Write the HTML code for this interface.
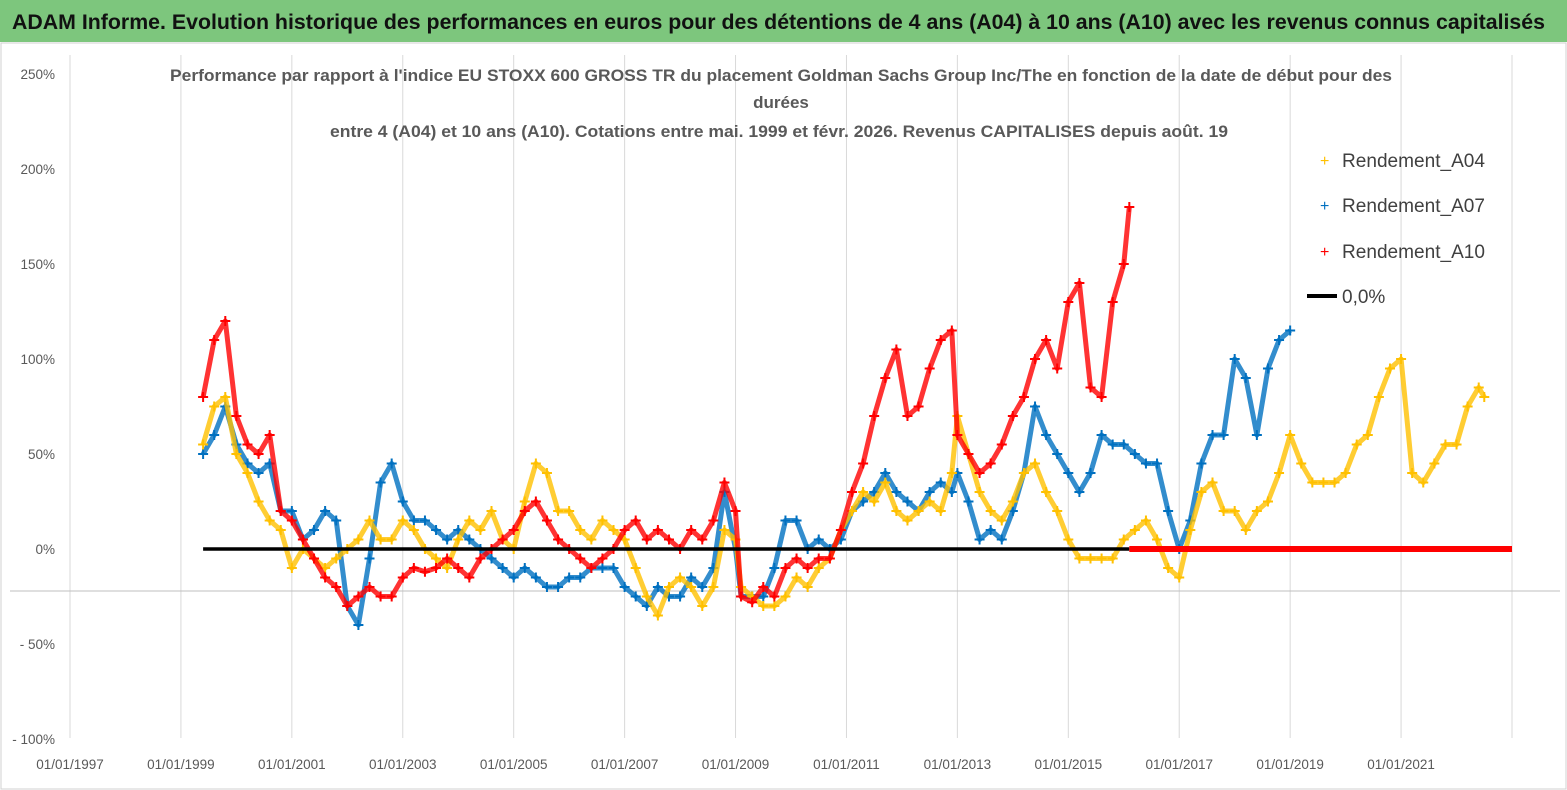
<!DOCTYPE html>
<html><head><meta charset="utf-8">
<style>
html,body{margin:0;padding:0;background:#fff;}
svg{display:block;font-family:"Liberation Sans",sans-serif;}
</style></head>
<body>
<svg id="chart" width="1567" height="790" viewBox="0 0 1567 790">
  <rect x="0" y="0" width="1567" height="790" fill="#fff"/>
  <rect x="0" y="0" width="1567" height="42" fill="#7dc67d"/>
  <text x="12" y="29" font-size="21" font-weight="bold" fill="#111" textLength="1533" lengthAdjust="spacingAndGlyphs">ADAM Informe. Evolution historique des performances en euros pour des détentions de 4 ans (A04) à 10 ans (A10) avec les revenus connus capitalisés</text>
  <rect x="1" y="43" width="1565" height="746" fill="none" stroke="#d0d0d0"/>
  <g id="grid"></g>
  <g id="yticks"></g>
  <g id="xticks"></g>
  <g font-weight="bold" fill="#595959" font-size="17" text-anchor="middle">
    <text x="781" y="81" textLength="1222" lengthAdjust="spacingAndGlyphs">Performance par rapport à l'indice EU STOXX 600 GROSS TR  du placement Goldman Sachs Group Inc/The en fonction de la date de début pour des</text>
    <text x="781" y="108">durées</text>
    <text x="779" y="137" textLength="898" lengthAdjust="spacingAndGlyphs">entre 4 (A04) et 10 ans (A10).  Cotations entre mai. 1999 et févr. 2026. Revenus CAPITALISES depuis août. 19</text>
  </g>
  <g id="plot"></g>
  <g font-size="19" fill="#404040">
    <g><text x="1320" y="166" fill="#ffc000" font-size="16">+</text><text x="1342" y="167" textLength="143" lengthAdjust="spacingAndGlyphs">Rendement_A04</text></g>
    <g><text x="1320" y="211" fill="#0070c0" font-size="16">+</text><text x="1342" y="212" textLength="143" lengthAdjust="spacingAndGlyphs">Rendement_A07</text></g>
    <g><text x="1320" y="257" fill="#ff0000" font-size="16">+</text><text x="1342" y="258" textLength="143" lengthAdjust="spacingAndGlyphs">Rendement_A10</text></g>
    <g><line x1="1307" y1="296" x2="1337" y2="296" stroke="#000" stroke-width="4"/><text x="1342" y="303">0,0%</text></g>
  </g>
</svg>
<script>
const yTickValues=[250,200,150,100,50,0,-50,-100];
const yTickLabels=["250%","200%","150%","100%","50%","0%","- 50%","- 100%"];
const xTickYears=[1997,1999,2001,2003,2005,2007,2009,2011,2013,2015,2017,2019,2021];
const xTickLabels=["01/01/1997","01/01/1999","01/01/2001","01/01/2003","01/01/2005","01/01/2007","01/01/2009","01/01/2011","01/01/2013","01/01/2015","01/01/2017","01/01/2019","01/01/2021"];
const datesA=[1999.4,1999.6,1999.8,2000.0,2000.2,2000.4,2000.6,2000.8,2001.0,2001.2,2001.4,2001.6,2001.8,2002.0,2002.2,2002.4,2002.6,2002.8,2003.0,2003.2,2003.4,2003.6,2003.8,2004.0,2004.2,2004.4,2004.6,2004.8,2005.0,2005.2,2005.4,2005.6,2005.8,2006.0,2006.2,2006.4,2006.6,2006.8,2007.0,2007.2,2007.4,2007.6,2007.8,2008.0,2008.2,2008.4,2008.6,2008.8,2009.0,2009.1,2009.3,2009.5,2009.7,2009.9,2010.1,2010.3,2010.5,2010.7,2010.9,2011.1,2011.3,2011.5,2011.7,2011.9,2012.1,2012.3,2012.5,2012.7,2012.9,2013.0,2013.2,2013.4,2013.6,2013.8,2014.0,2014.2,2014.4,2014.6,2014.8,2015.0,2015.2,2015.4,2015.6,2015.8,2016.0,2016.1];
const a10=[80,110,120,70,55,50,60,20,15,5,-5,-15,-20,-30,-25,-20,-25,-25,-15,-10,-12,-10,-5,-10,-15,-5,0,5,10,20,25,15,5,0,-5,-10,-5,0,10,15,5,10,5,0,10,5,15,35,20,-25,-28,-20,-25,-10,-5,-10,-5,-5,10,30,45,70,90,105,70,75,95,110,115,60,50,40,45,55,70,80,100,110,95,130,140,85,80,130,150,180];
const datesB=[1999.4,1999.6,1999.8,2000.0,2000.2,2000.4,2000.6,2000.8,2001.0,2001.2,2001.4,2001.6,2001.8,2002.0,2002.2,2002.4,2002.6,2002.8,2003.0,2003.2,2003.4,2003.6,2003.8,2004.0,2004.2,2004.4,2004.6,2004.8,2005.0,2005.2,2005.4,2005.6,2005.8,2006.0,2006.2,2006.4,2006.6,2006.8,2007.0,2007.2,2007.4,2007.6,2007.8,2008.0,2008.2,2008.4,2008.6,2008.8,2009.0,2009.1,2009.3,2009.5,2009.7,2009.9,2010.1,2010.3,2010.5,2010.7,2010.9,2011.1,2011.3,2011.5,2011.7,2011.9,2012.1,2012.3,2012.5,2012.7,2012.9,2013.0,2013.2,2013.4,2013.6,2013.8,2014.0,2014.2,2014.4,2014.6,2014.8,2015.0,2015.2,2015.4,2015.6,2015.8,2016.0,2016.2,2016.4,2016.6,2016.8,2017.0,2017.2,2017.4,2017.6,2017.8,2018.0,2018.2,2018.4,2018.6,2018.8,2019.0];
const a07=[50,60,75,55,45,40,45,20,20,5,10,20,15,-30,-40,-5,35,45,25,15,15,10,5,10,5,0,-5,-10,-15,-10,-15,-20,-20,-15,-15,-10,-10,-10,-20,-25,-30,-20,-25,-25,-15,-20,-10,30,0,-25,-25,-25,-10,15,15,0,5,0,5,20,25,30,40,30,25,20,30,35,30,40,25,5,10,5,20,40,75,60,50,40,30,40,60,55,55,50,45,45,20,0,15,45,60,60,100,90,60,95,110,115];
const datesC=[1999.4,1999.6,1999.8,2000.0,2000.2,2000.4,2000.6,2000.8,2001.0,2001.2,2001.4,2001.6,2001.8,2002.0,2002.2,2002.4,2002.6,2002.8,2003.0,2003.2,2003.4,2003.6,2003.8,2004.0,2004.2,2004.4,2004.6,2004.8,2005.0,2005.2,2005.4,2005.6,2005.8,2006.0,2006.2,2006.4,2006.6,2006.8,2007.0,2007.2,2007.4,2007.6,2007.8,2008.0,2008.2,2008.4,2008.6,2008.8,2009.0,2009.1,2009.3,2009.5,2009.7,2009.9,2010.1,2010.3,2010.5,2010.7,2010.9,2011.1,2011.3,2011.5,2011.7,2011.9,2012.1,2012.3,2012.5,2012.7,2012.9,2013.0,2013.2,2013.4,2013.6,2013.8,2014.0,2014.2,2014.4,2014.6,2014.8,2015.0,2015.2,2015.4,2015.6,2015.8,2016.0,2016.2,2016.4,2016.6,2016.8,2017.0,2017.2,2017.4,2017.6,2017.8,2018.0,2018.2,2018.4,2018.6,2018.8,2019.0,2019.2,2019.4,2019.6,2019.8,2020.0,2020.2,2020.4,2020.6,2020.8,2021.0,2021.2,2021.4,2021.6,2021.8,2022.0,2022.2,2022.4,2022.5];
const a04=[55,75,80,50,40,25,15,10,-10,0,-5,-10,-5,0,5,15,5,5,15,10,0,-5,-10,5,15,10,20,5,0,25,45,40,20,20,10,5,15,10,5,-10,-25,-35,-20,-15,-20,-30,-20,10,5,-20,-25,-30,-30,-25,-15,-20,-10,-5,10,20,30,25,35,20,15,20,25,20,40,70,50,30,20,15,25,40,45,30,20,5,-5,-5,-5,-5,5,10,15,5,-10,-15,10,30,35,20,20,10,20,25,40,60,45,35,35,35,40,55,60,80,95,100,40,35,45,55,55,75,85,80];
const zeroBlackRange=[1999.4,2016.1];
const zeroRedRange=[2016.1,2023.0];

const NS="http://www.w3.org/2000/svg";
const X0=70,X1=1512,Y0=75,Y1=738;
function xs(yr){return X0+(yr-1997)*(X1-X0)/(2023-1997);}
function ys(v){return 549-v*(549-454)/50;}
function mk(tag,attrs,parent){const e=document.createElementNS(NS,tag);for(const k in attrs)e.setAttribute(k,attrs[k]);parent.appendChild(e);return e;}

const grid=document.getElementById('grid'),yt=document.getElementById('yticks'),xt=document.getElementById('xticks'),plot=document.getElementById('plot');
xTickYears.forEach((yr,i)=>{
  const l=mk('line',{x1:xs(yr),x2:xs(yr),y1:Y0-20,y2:Y1,stroke:'#d9d9d9','stroke-width':1},grid);
  
  
  const t=mk('text',{x:xs(yr),y:769,'font-size':13.5,fill:'#595959','text-anchor':'middle'},xt);
  t.textContent=xTickLabels[i];
  
  
});
const edge=mk('line',{x1:X1,x2:X1,y1:Y0-20,y2:Y1,stroke:'#d9d9d9'},grid);


const hl=mk('line',{x1:10,x2:1560,y1:591,y2:591,stroke:'#bfbfbf'},grid);


yTickValues.forEach((v,i)=>{
  const t=mk('text',{x:55,y:ys(v)+5,'font-size':13.5,fill:'#595959','text-anchor':'end'},yt);
  t.textContent=yTickLabels[i];
  
  
});

function series(dates,vals,color,name){
  const g=mk('g',{},plot);
  
  
  const pts=dates.map((d,i)=>xs(d).toFixed(1)+','+ys(vals[i]).toFixed(1)).join(' ');
  const pl=mk('polyline',{points:pts,fill:'none',stroke:color,'stroke-width':5,'stroke-linejoin':'round','stroke-opacity':0.8},g);
  
  
  dates.forEach((d,i)=>{
    const x=xs(d),y=ys(vals[i]);
    const p=mk('path',{d:`M${x-5},${y}H${x+5}M${x},${y-5}V${y+5}`,stroke:color,'stroke-width':2},g);
    
    
  });
}
series(datesB,a07,'#0070c0','series-a07');
series(datesC,a04,'#ffc000','series-a04');
series(datesA,a10,'#ff0000','series-a10');
const zb=mk('line',{x1:xs(zeroBlackRange[0]),x2:xs(zeroBlackRange[1]),y1:ys(0),y2:ys(0),stroke:'#000','stroke-width':3.5},plot);


const zr=mk('line',{x1:xs(zeroRedRange[0]),x2:xs(zeroRedRange[1]),y1:ys(0),y2:ys(0),stroke:'#ff0000','stroke-width':6},plot);


</script>
</body></html>
